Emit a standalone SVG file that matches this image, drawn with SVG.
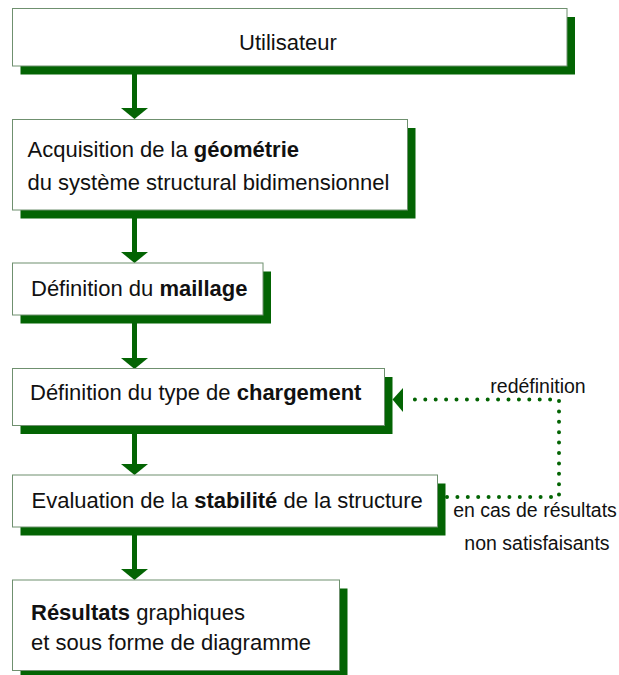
<svg xmlns="http://www.w3.org/2000/svg" width="619" height="675" viewBox="0 0 619 675">
<style>
.shadow{fill:#036403}
.box{fill:#ffffff;stroke:#6f906f;stroke-width:1}
.t{font-family:"Liberation Sans",Arial,sans-serif;font-size:22px;fill:#111}
.s{font-family:"Liberation Sans",Arial,sans-serif;font-size:19.5px;fill:#111}
.b{font-weight:bold}
.shaft{stroke:#036403;stroke-width:5;fill:none}
.head{fill:#036403}
.dot{stroke:#036403;stroke-width:4;stroke-linecap:round;stroke-dasharray:0 10.4;fill:none}
</style>
<rect width="619" height="675" fill="#ffffff"/>
<g id="connectors">
<line class="shaft" x1="134.5" y1="66" x2="134.5" y2="109"/>
<polygon class="head" points="121,108 148,108 134.5,119"/>
<line class="shaft" x1="134.5" y1="210" x2="134.5" y2="253"/>
<polygon class="head" points="121,252 148,252 134.5,263"/>
<line class="shaft" x1="134.5" y1="315" x2="134.5" y2="359"/>
<polygon class="head" points="121,358 148,358 134.5,369"/>
<line class="shaft" x1="134.5" y1="426" x2="134.5" y2="465"/>
<polygon class="head" points="121,464 148,464 134.5,475"/>
<line class="shaft" x1="134.5" y1="527" x2="134.5" y2="570"/>
<polygon class="head" points="121,569 148,569 134.5,580"/>
<path class="dot" d="M447,497 L559,497 L559,399.5 L407,399.5"/>
<polygon class="head" points="392.5,399.5 403,388 403,412"/>
<text class="s" x="538" y="393" text-anchor="middle">redéfinition</text>
<text class="s" x="535" y="517" text-anchor="middle">en cas de résultats</text>
<text class="s" x="537" y="550" text-anchor="middle">non satisfaisants</text>
</g>
<g id="n1">
<rect class="shadow" x="20.5" y="17" width="554.5" height="57.5"/>
<rect class="box" x="12.5" y="8.5" width="554.5" height="57.5"/>
<text class="t" x="288" y="50" text-anchor="middle">Utilisateur</text>
</g>
<g id="n2">
<rect class="shadow" x="20.5" y="128" width="395" height="90.5"/>
<rect class="box" x="12.5" y="119.5" width="395" height="90.5"/>
<text class="t" x="27.5" y="156.5">Acquisition de la <tspan class="b">géométrie</tspan></text>
<text class="t" x="27.5" y="190">du système structural bidimensionnel</text>
</g>
<g id="n3">
<rect class="shadow" x="20.5" y="271.5" width="250.5" height="52"/>
<rect class="box" x="12.5" y="263" width="250.5" height="52"/>
<text class="t" x="31" y="296">Définition du <tspan class="b">maillage</tspan></text>
</g>
<g id="n4">
<rect class="shadow" x="20.5" y="377" width="372" height="57"/>
<rect class="box" x="12.5" y="368.5" width="372" height="57"/>
<text class="t" x="30" y="400">Définition du type de <tspan class="b">chargement</tspan></text>
</g>
<g id="n5">
<rect class="shadow" x="20.5" y="483.5" width="425" height="52"/>
<rect class="box" x="12.5" y="475" width="425" height="52"/>
<text class="t" x="31.5" y="507.5">Evaluation de la <tspan class="b">stabilité</tspan> de la structure</text>
</g>
<g id="n6">
<rect class="shadow" x="20.5" y="588.5" width="327" height="90.5"/>
<rect class="box" x="12.5" y="580" width="327" height="90.5"/>
<text class="t" x="31" y="620"><tspan class="b">Résultats</tspan> graphiques</text>
<text class="t" x="31" y="650">et sous forme de diagramme</text>
</g>
</svg>
